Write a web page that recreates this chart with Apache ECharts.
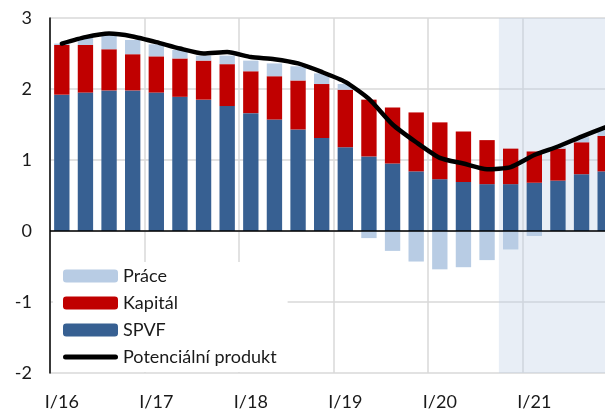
<!DOCTYPE html>
<html>
<head>
<meta charset="utf-8">
<script src="https://cdn.jsdelivr.net/npm/echarts@6/dist/echarts.min.js"></script>
<style>
html, body { margin: 0; padding: 0; background: #fff; overflow: hidden; }
/* graf je vpravo oriznuty - panel je sirsi nez okno */
#chart_panel { width: 640px; height: 411px; }
</style>
</head>
<body>
<div id="chart_panel"></div>
<script>
// kvartaly I/16 - IV/21
var categories = ['I/16','II/16','III/16','IV/16','I/17','II/17','III/17','IV/17',
	'I/18','II/18','III/18','IV/18','I/19','II/19','III/19','IV/19',
	'I/20','II/20','III/20','IV/20','I/21','II/21','III/21','IV/21'];
var spvf = [1.92,1.95,1.98,1.98,1.95,1.89,1.85,1.76,1.66,1.57,1.43,1.31,
	1.18,1.05,0.95,0.84,0.73,0.69,0.66,0.66,0.68,0.71,0.80,0.84];
var kapital = [0.70,0.67,0.58,0.51,0.51,0.54,0.55,0.59,0.59,0.61,0.69,0.76,
	0.81,0.80,0.79,0.83,0.80,0.71,0.62,0.50,0.44,0.45,0.45,0.50];
var prace = [0.02,0.10,0.20,0.20,0.17,0.12,0.07,0.12,0.15,0.18,0.20,0.15,
	0.08,-0.10,-0.28,-0.43,-0.54,-0.51,-0.41,-0.26,-0.07,0.02,0.07,0.10];
var potencial = [2.64,2.73,2.78,2.74,2.66,2.57,2.50,2.52,2.45,2.42,2.36,2.24,
	2.10,1.86,1.50,1.25,1.03,0.95,0.87,0.90,1.07,1.19,1.33,1.46];
var forecastStart = 18.5; // od IV/20

var myChart = echarts.init(document.getElementById('chart_panel'));

var gridColor = '#d9d9d9';
var lineIcon = 'path://M2.5,0 L52.5,0 A2.5,2.5 0 0 1 52.5,5 L2.5,5 A2.5,2.5 0 0 1 2.5,0 Z';

var option = {
	animation: false,
	textStyle: { fontFamily: 'Lato', color: '#1a1a1a' },
	grid: { left: 50, top: 18, width: 567, height: 355 },
	legend: {
		orient: 'vertical',
		left: 53,
		top: 262,
		padding: [5, 11, 6, 10],
		backgroundColor: '#ffffff',
		itemWidth: 55,
		itemHeight: 13,
		itemGap: 9,
		textStyle: { fontSize: 18, color: '#1a1a1a' },
		data: ['Práce', 'Kapitál', 'SPVF', { name: 'Potenciální produkt', icon: lineIcon }]
	},
	xAxis: [
		{
			type: 'category',
			data: categories,
			boundaryGap: true,
			axisLine: { show: false },
			axisTick: { show: false },
			axisLabel: { interval: 3, fontSize: 18, color: '#1a1a1a', margin: 20 },
			splitLine: { show: true, interval: 3, lineStyle: { color: gridColor, width: 1.5 } }
		},
		{
			type: 'value',
			min: -0.5,
			max: categories.length - 0.5,
			show: false
		}
	],
	yAxis: {
		type: 'value',
		min: -2,
		max: 3,
		interval: 1,
		axisLine: { show: true, onZero: false, lineStyle: { color: '#000', width: 1.5 } },
		axisTick: { show: false },
		axisLabel: { fontSize: 18, color: '#1a1a1a', margin: 18 },
		splitLine: { lineStyle: { color: gridColor, width: 1.5 } }
	},
	series: [
		{
			name: 'SPVF',
			type: 'bar',
			stack: 'total',
			barCategoryGap: '35%',
			itemStyle: { color: '#376092' },
			data: spvf
		},
		{
			name: 'Kapitál',
			type: 'bar',
			stack: 'total',
			itemStyle: { color: '#c00000' },
			data: kapital
		},
		{
			name: 'Práce',
			type: 'bar',
			stack: 'total',
			itemStyle: { color: '#b8cce4' },
			data: prace
		},
		{
			name: 'Potenciální produkt',
			type: 'line',
			z: 3,
			symbol: 'none',
			smooth: 0.2,
			lineStyle: { color: '#000', width: 4.5, cap: 'round' },
			itemStyle: { color: '#000' },
			data: potencial,
			markLine: {
				silent: true,
				symbol: ['none', 'none'],
				label: { show: false },
				lineStyle: { color: '#000', width: 1.5, type: 'solid' },
				data: [{ yAxis: 0 }]
			}
		},
		{
			// prognoza - poloprusvitny podklad pres grafy
			name: 'prognoza',
			type: 'line',
			xAxisIndex: 1,
			z: 10,
			data: [],
			markArea: {
				silent: true,
				itemStyle: { color: 'rgba(190,205,230,0.35)' },
				data: [[{ xAxis: forecastStart }, { xAxis: categories.length - 0.5 }]]
			}
		}
	]
};

myChart.setOption(option, true);
</script>
</body>
</html>
